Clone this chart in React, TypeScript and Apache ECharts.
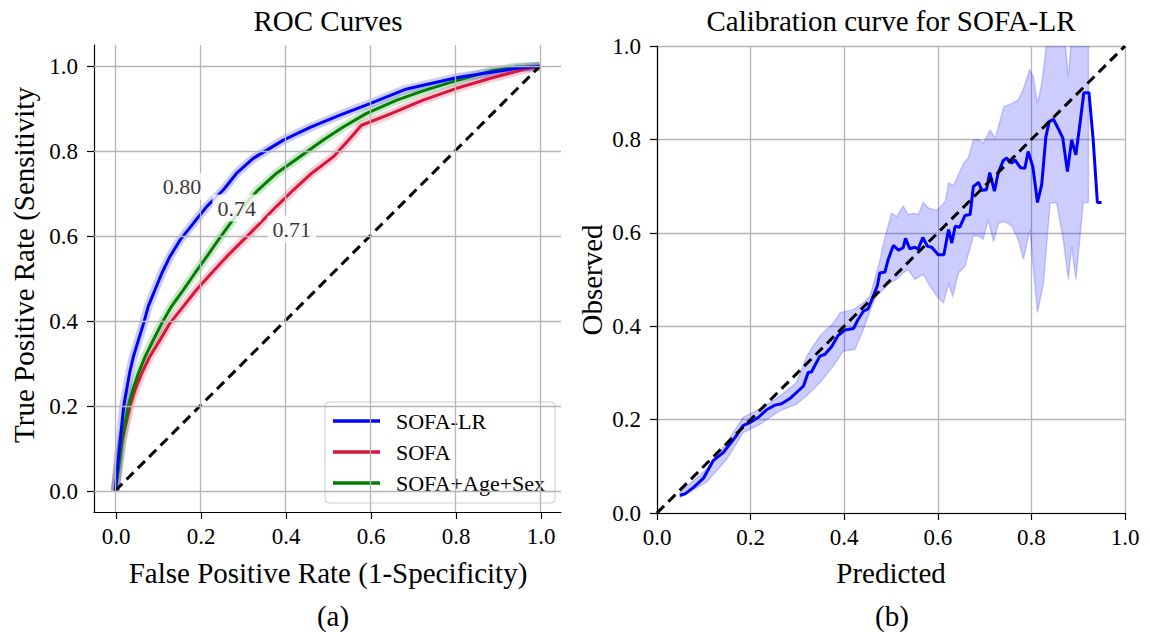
import React, { useEffect, useRef } from "react";
import * as echarts from "echarts";

// ---------- data ----------
const tickValues = [0, 0.2, 0.4, 0.6, 0.8, 1.0];
const legendNames = ["SOFA-LR", "SOFA", "SOFA+Age+Sex"];

// ROC: SOFA-LR
const lrFpr = [0, 0.008, 0.012, 0.02, 0.034, 0.043, 0.055, 0.067, 0.078, 0.094, 0.11, 0.129, 0.153, 0.184, 0.216, 0.255, 0.286, 0.325, 0.396, 0.459, 0.529, 0.6, 0.682, 0.725, 0.804, 0.882, 0.945, 1];
const lrTpr = [0, 0.082, 0.121, 0.2, 0.278, 0.317, 0.356, 0.395, 0.435, 0.474, 0.513, 0.552, 0.591, 0.63, 0.67, 0.709, 0.748, 0.783, 0.826, 0.856, 0.885, 0.912, 0.945, 0.955, 0.973, 0.985, 0.995, 1];
// ROC: SOFA
const sofaFpr = [0, 0.01, 0.017, 0.035, 0.047, 0.063, 0.082, 0.106, 0.129, 0.161, 0.192, 0.227, 0.263, 0.302, 0.341, 0.38, 0.42, 0.463, 0.514, 0.553, 0.58, 0.647, 0.725, 0.804, 0.882, 0.961, 1];
const sofaTpr = [0, 0.082, 0.121, 0.2, 0.239, 0.278, 0.317, 0.356, 0.395, 0.435, 0.474, 0.513, 0.552, 0.591, 0.63, 0.67, 0.709, 0.748, 0.787, 0.83, 0.861, 0.887, 0.92, 0.948, 0.971, 0.992, 1];
// ROC: SOFA+Age+Sex
const ageFpr = [0, 0.012, 0.016, 0.031, 0.042, 0.055, 0.071, 0.09, 0.11, 0.133, 0.161, 0.188, 0.216, 0.243, 0.271, 0.302, 0.337, 0.38, 0.435, 0.49, 0.537, 0.592, 0.663, 0.725, 0.804, 0.882, 0.945, 1];
const ageTpr = [0, 0.082, 0.121, 0.2, 0.239, 0.278, 0.317, 0.356, 0.395, 0.435, 0.474, 0.513, 0.552, 0.591, 0.63, 0.67, 0.709, 0.748, 0.787, 0.826, 0.857, 0.889, 0.92, 0.942, 0.966, 0.988, 0.998, 1];
// chance line
const diagX = [0, 1];
const diagY = [0, 1];
// AUC annotations
const aucText = ["0.80", "0.74", "0.71"];
const aucX = [0.157, 0.286, 0.416];
const aucY = [0.717, 0.666, 0.616];

// Calibration curve
const calPred = [0.049, 0.06, 0.078, 0.099, 0.12, 0.142, 0.167, 0.184, 0.199, 0.217, 0.234, 0.252, 0.266, 0.284, 0.298, 0.313, 0.323, 0.33, 0.348, 0.359, 0.373, 0.387, 0.402, 0.42, 0.43, 0.441, 0.451, 0.462, 0.471, 0.476, 0.487, 0.494, 0.505, 0.516, 0.526, 0.531, 0.54, 0.551, 0.558, 0.568, 0.578, 0.587, 0.601, 0.613, 0.623, 0.63, 0.637, 0.647, 0.658, 0.669, 0.676, 0.687, 0.694, 0.704, 0.711, 0.721, 0.729, 0.74, 0.747, 0.758, 0.765, 0.776, 0.786, 0.793, 0.803, 0.813, 0.822, 0.831, 0.838, 0.847, 0.857, 0.867, 0.877, 0.886, 0.895, 0.904, 0.912, 0.923, 0.932, 0.941, 0.95];
const calObs = [0.038, 0.041, 0.055, 0.074, 0.112, 0.13, 0.162, 0.187, 0.194, 0.205, 0.221, 0.231, 0.234, 0.245, 0.258, 0.272, 0.301, 0.302, 0.336, 0.34, 0.356, 0.38, 0.392, 0.395, 0.415, 0.432, 0.437, 0.464, 0.487, 0.514, 0.516, 0.543, 0.573, 0.563, 0.568, 0.588, 0.566, 0.569, 0.565, 0.59, 0.571, 0.569, 0.553, 0.553, 0.607, 0.578, 0.614, 0.612, 0.637, 0.639, 0.699, 0.708, 0.691, 0.692, 0.729, 0.689, 0.728, 0.755, 0.76, 0.749, 0.756, 0.74, 0.738, 0.774, 0.742, 0.665, 0.703, 0.806, 0.838, 0.843, 0.824, 0.803, 0.731, 0.799, 0.767, 0.835, 0.9, 0.9, 0.799, 0.665, 0.665];
// confidence band, upper edge
const calHiX = [0.049, 0.106, 0.149, 0.184, 0.22, 0.263, 0.298, 0.32, 0.348, 0.377, 0.391, 0.42, 0.441, 0.455, 0.477, 0.484, 0.501, 0.512, 0.526, 0.537, 0.548, 0.558, 0.569, 0.58, 0.598, 0.616, 0.623, 0.633, 0.644, 0.655, 0.665, 0.676, 0.687, 0.697, 0.712, 0.723, 0.741, 0.758, 0.772, 0.782, 0.796, 0.804, 0.813, 0.822, 0.838, 0.868, 0.879, 0.888, 0.922];
const calHiY = [0.044, 0.094, 0.151, 0.205, 0.223, 0.251, 0.279, 0.336, 0.379, 0.407, 0.429, 0.436, 0.45, 0.464, 0.543, 0.578, 0.642, 0.635, 0.657, 0.639, 0.642, 0.639, 0.665, 0.653, 0.648, 0.667, 0.707, 0.701, 0.724, 0.749, 0.76, 0.799, 0.8, 0.792, 0.82, 0.803, 0.87, 0.877, 0.885, 0.906, 0.949, 0.935, 0.877, 0.92, 1.05, 1.05, 0.935, 1.05, 1.05];
// confidence band, lower edge
const calLoX = [0.049, 0.106, 0.149, 0.184, 0.22, 0.263, 0.298, 0.32, 0.348, 0.377, 0.398, 0.423, 0.441, 0.459, 0.469, 0.48, 0.498, 0.512, 0.526, 0.537, 0.551, 0.569, 0.583, 0.598, 0.612, 0.623, 0.632, 0.644, 0.658, 0.676, 0.687, 0.697, 0.708, 0.719, 0.73, 0.744, 0.758, 0.772, 0.783, 0.797, 0.805, 0.813, 0.826, 0.84, 0.854, 0.868, 0.879, 0.886, 0.895, 0.911, 0.922];
const calLoY = [0.033, 0.066, 0.115, 0.172, 0.19, 0.219, 0.233, 0.251, 0.279, 0.315, 0.347, 0.35, 0.393, 0.443, 0.464, 0.475, 0.493, 0.5, 0.514, 0.521, 0.5, 0.511, 0.486, 0.464, 0.45, 0.49, 0.464, 0.514, 0.528, 0.593, 0.593, 0.586, 0.628, 0.581, 0.621, 0.624, 0.614, 0.585, 0.543, 0.607, 0.514, 0.429, 0.493, 0.664, 0.664, 0.585, 0.5, 0.571, 0.5, 0.665, 0.665];

// ---------- styling ----------
const FONT = "'Liberation Serif', 'Times New Roman', serif";
const BLUE = "#0000ff";
const RED = "#dc143c";
const GREEN = "#008000";
const GRID_COLOR = "#b5b5b5";

const zip = (xs: number[], ys: number[]) => xs.map((x, i) => [x, ys[i]]);

function buildOption(): any {
  const tickAxis = (pos: "bottom" | "left", gridIndex: number, offset: number) => ({
    type: "value",
    gridIndex,
    position: pos,
    min: 0,
    max: 1,
    interval: 0.2,
    offset,
    axisLine: { show: false, onZero: false },
    axisTick: { show: true, inside: false, length: 7, lineStyle: { color: "#000", width: 1.2 } },
    axisLabel: {
      color: "#000",
      fontSize: 23,
      fontFamily: FONT,
      margin: pos === "bottom" ? 13 : 16,
      formatter: (v: number) => v.toFixed(1),
    },
    splitLine: { show: false },
  });
  const frameAxis = (pos: "bottom" | "left", gridIndex: number) => ({
    type: "value",
    gridIndex,
    position: pos,
    min: -0.05,
    max: 1.05,
    axisLine: { show: true, onZero: false, lineStyle: { color: "#000", width: 1.2 } },
    axisTick: { show: false },
    axisLabel: { show: false },
    splitLine: { show: false },
  });

  const gridMarkLines = {
    silent: true,
    symbol: ["none", "none"],
    label: { show: false },
    lineStyle: { color: GRID_COLOR, width: 1.3, type: "solid" },
    data: [
      ...tickValues.map((v) => ({ xAxis: v })),
      ...tickValues.map((v) => ({ yAxis: v })),
    ],
  };

  const band = (name: string, xs: number[], ys: number[], color: string) => ({
    type: "line",
    name: name + " band",
    xAxisIndex: 0,
    yAxisIndex: 0,
    data: zip(xs, ys),
    showSymbol: false,
    symbol: "none",
    silent: true,
    z: 2,
    lineStyle: { color, width: 9, opacity: 0.2 },
  });
  const curve = (name: string, xs: number[], ys: number[], color: string) => ({
    type: "line",
    name,
    xAxisIndex: 0,
    yAxisIndex: 0,
    data: zip(xs, ys),
    symbol: "none",
    showSymbol: false,
    z: 3,
    color,
    lineStyle: { color, width: 3 },
  });

  const txt = (text: string, x: number, y: number, size: number, rotate = false) => ({
    type: "text",
    x,
    y,
    rotation: rotate ? Math.PI / 2 : 0,
    style: { text, fontSize: size, fontFamily: FONT, fill: "#000", align: "center", verticalAlign: "middle" },
  });

  const calAxisExtras = {
    axisLine: { show: true, onZero: false, lineStyle: { color: "#000", width: 1.2 } },
    splitLine: { show: true, showMaxLine: true, lineStyle: { color: GRID_COLOR, width: 1.3 } },
  };

  return {
    animation: false,
    backgroundColor: "#ffffff",
    textStyle: { fontFamily: FONT },
    grid: [
      { left: 94, top: 45, width: 467, height: 467 },
      { left: 116, top: 66, width: 425, height: 425 },
      { left: 657, top: 46, width: 468, height: 467 },
    ],
    xAxis: [
      frameAxis("bottom", 0),
      tickAxis("bottom", 1, 21),
      { ...tickAxis("bottom", 2, 0), ...calAxisExtras },
    ],
    yAxis: [
      frameAxis("left", 0),
      tickAxis("left", 1, 22),
      { ...tickAxis("left", 2, 0), ...calAxisExtras },
    ],
    legend: {
      data: legendNames,
      orient: "vertical",
      left: 325,
      top: 402,
      icon: "rect",
      itemWidth: 47,
      itemHeight: 3.5,
      itemGap: 9,
      padding: [8, 10, 9, 8],
      backgroundColor: "rgba(255,255,255,0.85)",
      borderColor: "#cccccc",
      borderWidth: 1,
      borderRadius: 4,
      itemStyle: { borderWidth: 0 },
      textStyle: { color: "#000", fontSize: 22, fontFamily: FONT, padding: [0, 0, 0, 11] },
    },
    series: [
      {
        type: "line",
        name: "grid",
        xAxisIndex: 0,
        yAxisIndex: 0,
        data: [],
        silent: true,
        z: 1,
        markLine: gridMarkLines,
      },
      band("SOFA", sofaFpr, sofaTpr, RED),
      band("SOFA+Age+Sex", ageFpr, ageTpr, GREEN),
      band("SOFA-LR", lrFpr, lrTpr, BLUE),
      curve("SOFA", sofaFpr, sofaTpr, RED),
      curve("SOFA+Age+Sex", ageFpr, ageTpr, GREEN),
      curve("SOFA-LR", lrFpr, lrTpr, BLUE),
      {
        type: "line",
        name: "chance",
        xAxisIndex: 0,
        yAxisIndex: 0,
        data: zip(diagX, diagY),
        symbol: "none",
        silent: true,
        z: 4,
        lineStyle: { color: "#000", width: 3, type: [10, 6] },
      },
      {
        type: "scatter",
        name: "auc",
        xAxisIndex: 0,
        yAxisIndex: 0,
        symbolSize: 0,
        silent: true,
        z: 10,
        data: aucX.map((x, i) => ({ value: [x, aucY[i]], name: aucText[i] })),
        label: {
          show: true,
          position: "inside",
          formatter: "{b}",
          color: "#000",
          fontSize: 22,
          fontFamily: FONT,
          backgroundColor: "#ffffff",
          padding: [3, 5, 2, 5],
        },
      },
      // calibration plot
      {
        type: "custom",
        name: "calBand",
        xAxisIndex: 2,
        yAxisIndex: 2,
        clip: true,
        silent: true,
        z: 1,
        data: [[0.5, 0.5]],
        renderItem: (params: any, api: any) => {
          const pts: number[][] = [];
          calHiX.forEach((x, i) => pts.push(api.coord([x, calHiY[i]])));
          for (let i = calLoX.length - 1; i >= 0; i--) pts.push(api.coord([calLoX[i], calLoY[i]]));
          return {
            type: "polygon",
            shape: { points: pts },
            style: { fill: "rgba(0,0,255,0.2)", stroke: "rgba(0,0,255,0.18)", lineWidth: 1.5 },
          };
        },
      },
      {
        type: "line",
        name: "calibration",
        xAxisIndex: 2,
        yAxisIndex: 2,
        data: zip(calPred, calObs),
        symbol: "none",
        z: 3,
        lineStyle: { color: BLUE, width: 3 },
      },
      {
        type: "line",
        name: "perfect",
        xAxisIndex: 2,
        yAxisIndex: 2,
        data: zip(diagX, diagY),
        symbol: "none",
        silent: true,
        z: 4,
        lineStyle: { color: "#000", width: 3, type: [10, 6] },
      },
    ],
    graphic: [
      txt("ROC Curves", 328, 21, 29),
      txt("Calibration curve for SOFA-LR", 891, 21, 29),
      txt("False Positive Rate (1-Specificity)", 328, 573, 29),
      txt("Predicted", 891, 573, 29),
      txt("True Positive Rate (Sensitivity", 24, 265, 29, true),
      txt("Observed", 592, 280, 29, true),
      txt("(a)", 333, 616, 29),
      txt("(b)", 892, 616, 29),
    ],
  };
}

export default function App() {
  const ref = useRef<HTMLDivElement | null>(null);
  useEffect(() => {
    if (!ref.current) return;
    const chart = echarts.init(ref.current, undefined, { renderer: "svg" });
    chart.setOption(buildOption());
    return () => chart.dispose();
  }, []);
  return (
    <div
      ref={ref}
      style={{ position: "fixed", left: 0, top: 0, width: 1150, height: 632, background: "#fff" }}
    />
  );
}
